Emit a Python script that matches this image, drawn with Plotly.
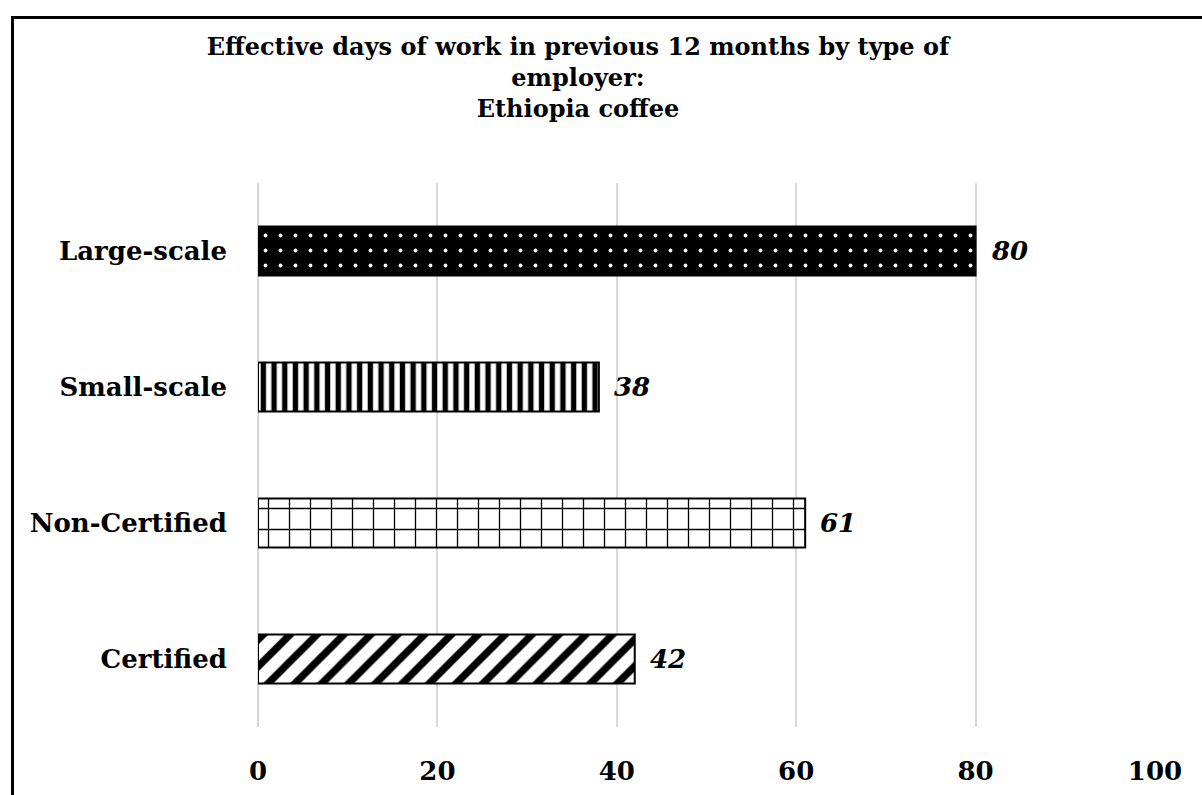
import plotly.graph_objects as go

categories = ["Certified", "Non-Certified", "Small-scale", "Large-scale"]
values = [42, 61, 38, 80]
x_ticks = [0, 20, 40, 60, 80, 100]
title_lines = ["Effective days of work in previous 12 months by type of",
               "employer:", "Ethiopia coffee"]

pattern_shapes = ["/", "+", "|", "."]
pattern_bg = ["white", "white", "white", "black"]
pattern_fg = ["black", "black", "black", "white"]
pattern_size = [19, 21, 10.7, 15]
pattern_solidity = [0.38, 0.12, 0.5, 0.05]

FONT = "DejaVu Serif"

W, H = 1202, 795
L, R, T, B = 258, 47, 183, 68

fig = go.Figure()
fig.add_trace(go.Bar(
    x=values, y=categories, orientation="h", width=0.36,
    marker=dict(
        color="black",
        line=dict(color="black", width=2),
        pattern=dict(shape=pattern_shapes, bgcolor=pattern_bg, fgcolor=pattern_fg,
                     size=pattern_size, solidity=pattern_solidity, fillmode="replace"),
    ),
    hoverinfo="skip",
))

for v, c in zip(values, categories):
    fig.add_annotation(x=v, y=c, text=f"<b><i>{v}</i></b>", showarrow=False,
                       xanchor="left", xshift=13,
                       font=dict(family=FONT, size=26, color="black"))

pw = W - L - R
ph = H - T - B
def px2x(p):
    return (p - L) / pw
def py2y(p):
    return (H - B - p) / ph

fig.add_shape(type="rect", xref="paper", yref="paper",
              x0=px2x(12.5), x1=px2x(1230), y0=py2y(17.5), y1=py2y(830),
              line=dict(color="black", width=3), fillcolor="rgba(0,0,0,0)", layer="above")

fig.update_layout(
    width=W, height=H,
    margin=dict(l=L, r=R, t=T, b=B, autoexpand=False),
    paper_bgcolor="white", plot_bgcolor="white",
    showlegend=False,
    title=dict(text="<b>" + "<br>".join(title_lines) + "</b>",
               x=578 / W, xref="container", xanchor="center",
               y=1 - 55 / H, yref="container", yanchor="top",
               font=dict(family=FONT, size=24, color="black")),
    xaxis=dict(range=[0, 100], tickvals=x_ticks, ticktext=[f"<b>{t}</b>" for t in x_ticks],
               showgrid=True, gridcolor="#d9d9d9", gridwidth=1.5,
               zeroline=True, zerolinecolor="#d9d9d9", zerolinewidth=1.5,
               showline=False, ticks="", ticklabelstandoff=26, automargin=False,
               tickfont=dict(family=FONT, size=26, color="black")),
    yaxis=dict(categoryorder="array", categoryarray=categories,
               showgrid=False, zeroline=False, showline=False, ticks="",
               ticklabelstandoff=30, automargin=False,
               tickfont=dict(family=FONT, size=26, color="black"),
               tickvals=categories, ticktext=[f"<b>{c}</b>" for c in categories]),
)

fig.write_html("out.html", config={"displayModeBar": False},
               post_script="document.body.style.margin='0';")
